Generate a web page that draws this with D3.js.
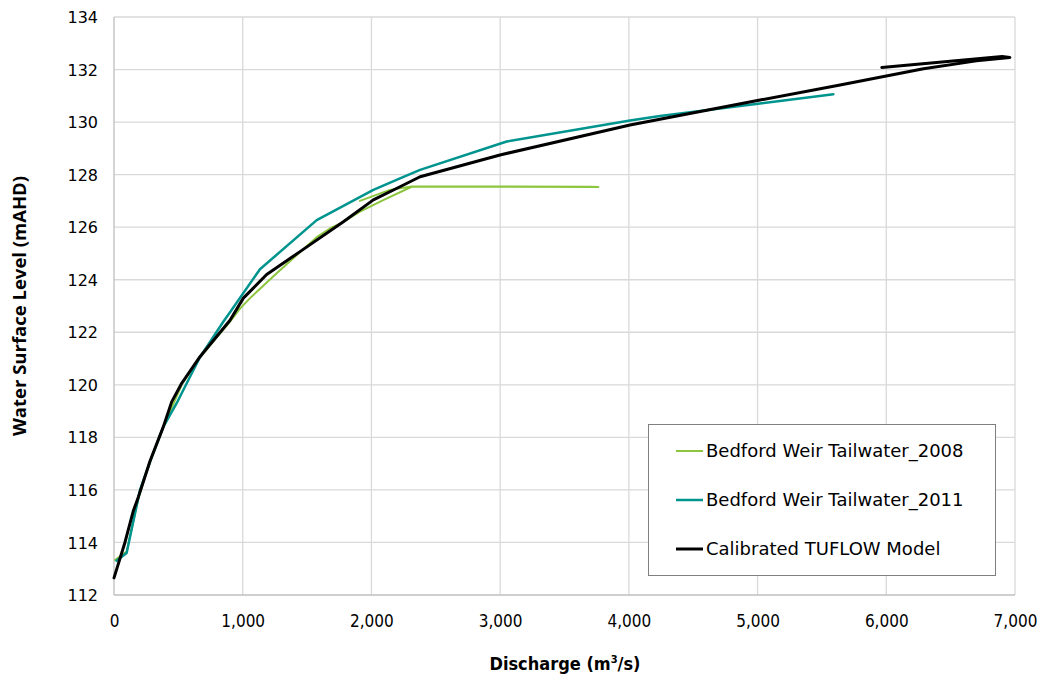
<!DOCTYPE html>
<html><head><meta charset="utf-8">
<script src="https://cdn.jsdelivr.net/npm/d3@7"></script>
<style>
body{margin:0;background:#fff;}
text{font-family:"DejaVu Sans",sans-serif;fill:#000;}
</style></head>
<body><svg id="c" width="1049" height="681"></svg>
<script>
const seriesNames = ["Bedford Weir Tailwater_2008","Bedford Weir Tailwater_2011","Calibrated TUFLOW Model"];
const xTicks = [0,1000,2000,3000,4000,5000,6000,7000];
const yTicks = [112,114,116,118,120,122,124,126,128,130,132,134];
// [discharge, level]
const tw2008 = [[8,113.33],[98,113.65],[190,115.7],[280,117.1],[383,118.4],[526,120.0],[668,121.05],[900,122.4],[979,122.9],[1057,123.3],[1264,124.25],[1445,125.05],[1575,125.62],[1678,125.95],[1782,126.2],[1911,126.59],[2100,127.05],[2313,127.54],[3000,127.54],[3763,127.53],[3700,127.54],[2313,127.55],[2144,127.42],[1911,127.0]];
const tw2011 = [[20,113.3],[98,113.6],[202,116.0],[290,117.2],[383,118.4],[487,119.3],[565,120.06],[668,121.05],[849,122.4],[900,122.75],[1134,124.4],[1575,126.27],[2015,127.42],[2222,127.86],[2378,128.18],[3051,129.26],[4009,130.06],[4242,130.23],[5019,130.71],[5589,131.06]];
const tuflow = [[0,112.65],[85,114.0],[150,115.2],[190,115.74],[280,117.1],[383,118.4],[448,119.35],[526,120.06],[668,121.07],[900,122.45],[1005,123.3],[1186,124.2],[1445,125.07],[1782,126.21],[2015,127.04],[2222,127.54],[2378,127.92],[2999,128.75],[4009,129.89],[5019,130.84],[5641,131.41],[6289,132.03],[6700,132.33],[6960,132.46],[6900,132.5],[5965,132.08]];
const colors = ["#8cc63e","#00948f","#000000"];
const widths = [2,2.5,3];

const svg = d3.select("#c");
const L=114,R=1015,T=17,B=595;
const x = d3.scaleLinear().domain([0,7000]).range([L,R]);
const y = d3.scaleLinear().domain([112,134]).range([B,T]);

// grid
svg.append("g").selectAll("line").data(xTicks.slice(1)).join("line")
 .attr("x1",d=>x(d)).attr("x2",d=>x(d)).attr("y1",T).attr("y2",B)
 .attr("stroke","#d9d9d9").attr("stroke-width",1.3);
svg.append("g").selectAll("line").data(yTicks.slice(1)).join("line")
 .attr("x1",L).attr("x2",R).attr("y1",d=>y(d)).attr("y2",d=>y(d))
 .attr("stroke","#d9d9d9").attr("stroke-width",1.3);
// axes lines
svg.append("line").attr("x1",L).attr("x2",L).attr("y1",T).attr("y2",B).attr("stroke","#bfbfbf").attr("stroke-width",1.3);
svg.append("line").attr("x1",L).attr("x2",R).attr("y1",B).attr("y2",B).attr("stroke","#bfbfbf").attr("stroke-width",1.3);

const xAxis = svg.append("g").attr("transform",`translate(0,${B})`)
 .call(d3.axisBottom(x).tickValues(xTicks).tickSize(0).tickPadding(20).tickFormat(d3.format(",")));
xAxis.select(".domain").remove();
xAxis.selectAll("text").style("font-family",'"Liberation Sans Narrow","DejaVu Sans Condensed",sans-serif').style("font-size","17px");
const yAxis = svg.append("g").attr("transform",`translate(${L},0)`)
 .call(d3.axisLeft(y).tickValues(yTicks).tickSize(0).tickPadding(16));
yAxis.select(".domain").remove();
yAxis.selectAll("text").style("font-size","16px").style("font-family","\"DejaVu Sans\",sans-serif").attr("dy","0.35em");

// lines
const line = d3.line().x(d=>x(d[0])).y(d=>y(d[1]));
[tw2008,tw2011,tuflow].forEach((s,i)=>{
  svg.append("path").datum(s).attr("d",line).attr("fill","none")
   .attr("stroke",colors[i]).attr("stroke-width",widths[i]).attr("stroke-linejoin","round").attr("stroke-linecap","round");
});

// titles
svg.append("text").attr("transform","translate(26,306) rotate(-90)").attr("text-anchor","middle")
 .style("font-weight","bold").style("font-size","18.5px").style("font-family",'"Open Sans",sans-serif').text("Water Surface Level (mAHD)");
const xt = svg.append("text").attr("x",565).attr("y",670).attr("text-anchor","middle")
 .style("font-weight","bold").style("font-size","18px").style("font-family",'"DejaVu Sans Condensed","Open Sans",sans-serif');
xt.append("tspan").text("Discharge (m");
xt.append("tspan").attr("dy","-7").style("font-size","11px").text("3");
xt.append("tspan").attr("dy","7").text("/s)");

// legend
const lg = svg.append("g");
lg.append("rect").attr("x",648.5).attr("y",424.5).attr("width",347).attr("height",151)
 .attr("fill","#fff").attr("stroke","#7f7f7f").attr("stroke-width",1);
seriesNames.forEach((n,i)=>{
  const yy = 451 + i*49;
  lg.append("line").attr("x1",676).attr("x2",703).attr("y1",yy).attr("y2",yy)
   .attr("stroke",colors[i]).attr("stroke-width",widths[i]);
  lg.append("text").attr("x",706).attr("y",yy).attr("dy","0.36em").style("font-size","18px").text(n);
});
</script></body></html>
